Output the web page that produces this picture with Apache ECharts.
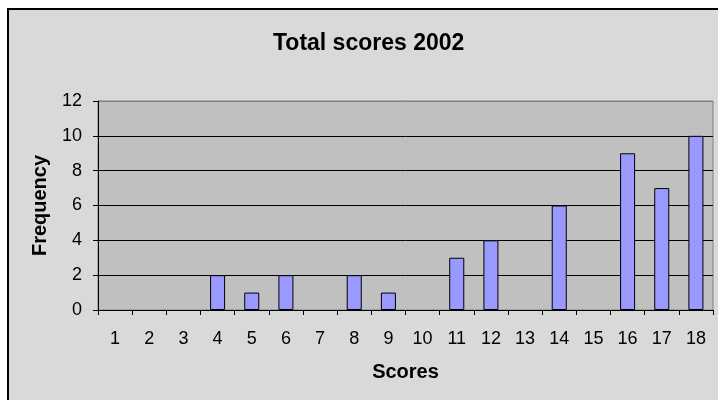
<!DOCTYPE html>
<html><head><meta charset="utf-8">
<script src="https://cdn.jsdelivr.net/npm/echarts@6/dist/echarts.min.js"></script>
<style>html,body{margin:0;padding:0;background:#fff}#c{width:718px;height:400px}</style>
</head><body><div id="c"></div>
<script>
const categories = ['1','2','3','4','5','6','7','8','9','10','11','12','13','14','15','16','17','18'];
const frequency = [0,0,0,2,1,2,0,2,1,0,3,4,0,6,0,9,7,10];
const yTicks = {min:0, max:12, interval:2};

const chart = echarts.init(document.getElementById('c'), null, {renderer:'canvas'});
const font = 'Arial, "Liberation Sans", sans-serif';
const barData = frequency.map(v => v === 0 ? {value:v, itemStyle:{borderWidth:0}} : v);
chart.setOption({
  animation:false,
  backgroundColor:'#ffffff',
  graphic:[{type:'rect', z:-10, shape:{x:8,y:9,width:720,height:400}, style:{fill:'#D9D9D9', stroke:'#000', lineWidth:2}}],
  title:{text:'Total scores 2002', left:268, top:27, textStyle:{fontFamily:font, fontSize:23, fontWeight:'bold', color:'#000'}},
  grid:{left:98, top:101, right:5, bottom:90, show:true, backgroundColor:'#C0C0C0', borderColor:'#808080', borderWidth:1},
  xAxis:{type:'category', data:categories, boundaryGap:true,
    name:'Scores', nameLocation:'middle', nameGap:52,
    nameTextStyle:{fontFamily:font, fontSize:20, fontWeight:'bold', color:'#000'},
    axisLine:{lineStyle:{color:'#000', width:1}},
    axisTick:{show:true, inside:false, length:5, lineStyle:{color:'#000'}, alignWithLabel:false},
    axisLabel:{fontFamily:font, fontSize:18, color:'#000', margin:20, interval:0},
    splitLine:{show:false}},
  yAxis:{type:'value', min:yTicks.min, max:yTicks.max, interval:yTicks.interval,
    name:'Frequency', nameLocation:'middle', nameGap:48, nameRotate:90,
    nameTextStyle:{fontFamily:font, fontSize:20, fontWeight:'bold', color:'#000'},
    axisLine:{show:true, lineStyle:{color:'#000', width:1}},
    axisTick:{show:true, inside:false, length:5, lineStyle:{color:'#000'}},
    axisLabel:{fontFamily:font, fontSize:18, color:'#000', margin:16},
    splitLine:{show:true, lineStyle:{color:['#000','#000','#000','#000','#000','#000','#808080'], width:1}}},
  series:[{type:'bar', data:barData, barWidth:'44%',
    itemStyle:{color:'#9999FF', borderColor:'#000', borderWidth:1}}]
});
</script></body></html>
